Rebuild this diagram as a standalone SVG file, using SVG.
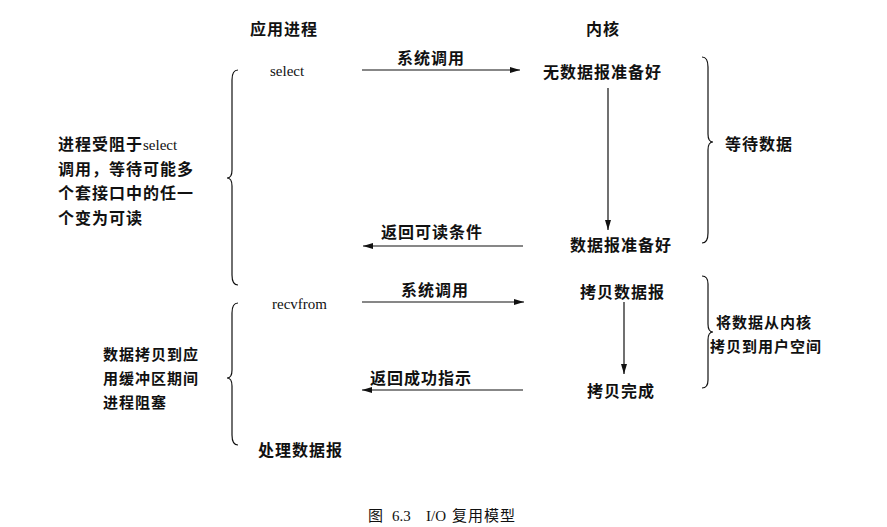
<svg xmlns="http://www.w3.org/2000/svg" width="887" height="527" viewBox="0 0 887 527">
<defs>
<marker id="ah" viewBox="0 0 10 6" refX="10" refY="3" markerWidth="10" markerHeight="6" orient="auto" markerUnits="userSpaceOnUse"><path d="M0,0 L10,3 L0,6 Z" fill="#111"/></marker>
<style>
text{font-family:"Noto Sans CJK SC","Liberation Serif",serif;font-size:16px;fill:#111;font-weight:bold;letter-spacing:1px}
.en{font-family:"Liberation Serif",serif;font-weight:normal;font-size:15px;letter-spacing:0}
.sm{font-size:15px}
.ln{stroke:#111;stroke-width:1.2;fill:none}
.br{stroke:#111;stroke-width:1.2;fill:none}
</style>
</defs>
<rect width="887" height="527" fill="#fff"/>
<g id="headers">
<text x="250" y="35">应用进程</text>
<text x="586" y="35">内核</text>
</g>
<g id="n-select"><text class="en" x="270" y="76">select</text></g>
<g id="n-nodata"><text x="543" y="78">无数据报准备好</text></g>
<g id="n-ready"><text x="570" y="251">数据报准备好</text></g>
<g id="n-recvfrom"><text class="en" x="272" y="309">recvfrom</text></g>
<g id="n-copy"><text x="580" y="298">拷贝数据报</text></g>
<g id="n-done"><text x="587" y="397">拷贝完成</text></g>
<g id="n-process"><text x="258" y="456">处理数据报</text></g>
<g id="braces">
<path class="br" d="M238,70 Q232,70 232,80 L232,170 Q232,178 227,178 Q232,178 232,186 L232,275 Q232,285 238,285"/>
<path class="br" d="M238,303 Q232,303 232,313 L232,370 Q232,378 227,378 Q232,378 232,386 L232,435 Q232,445 238,445"/>
<path class="br" d="M702,57 Q708,57 708,67 L708,134 Q708,142 713,142 Q708,142 708,150 L708,233 Q708,243 702,243"/>
<path class="br" d="M702,276 Q708,276 708,284 L708,324 Q708,332 713,332 Q708,332 708,340 L708,380 Q708,388 702,388"/>
</g>
<g id="notes">
<text x="58" y="150">进程受阻于<tspan class="en" font-weight="bold">select</tspan></text>
<text x="58" y="175">调用，等待可能多</text>
<text x="58" y="199">个套接口中的任一</text>
<text x="58" y="224">个变为可读</text>
<text x="725" y="150">等待数据</text>
<text class="sm" x="103" y="360">数据拷贝到应</text>
<text class="sm" x="103" y="384">用缓冲区期间</text>
<text class="sm" x="103" y="408">进程阻塞</text>
<text class="sm" x="716" y="328">将数据从内核</text>
<text class="sm" x="710" y="352">拷贝到用户空间</text>
</g>
<g id="connectors">
<line class="ln" x1="362" y1="70" x2="520" y2="70" marker-end="url(#ah)"/>
<text x="397" y="64">系统调用</text>
<line class="ln" x1="608" y1="88" x2="608" y2="230" marker-end="url(#ah)"/>
<line class="ln" x1="523" y1="246" x2="363" y2="246" marker-end="url(#ah)"/>
<text x="381" y="238">返回可读条件</text>
<line class="ln" x1="362" y1="302" x2="524" y2="302" marker-end="url(#ah)"/>
<text x="401" y="296">系统调用</text>
<line class="ln" x1="624" y1="302" x2="624" y2="374" marker-end="url(#ah)"/>
<line class="ln" x1="523" y1="390" x2="362" y2="390" marker-end="url(#ah)"/>
<text x="370" y="384">返回成功指示</text>
</g>
<g id="caption"><text x="368" y="521" style="font-weight:normal;font-size:15px">图 <tspan class="en" x="392">6.3</tspan><tspan class="en" x="426">I/O</tspan><tspan x="452">复用模型</tspan></text></g>
</svg>
